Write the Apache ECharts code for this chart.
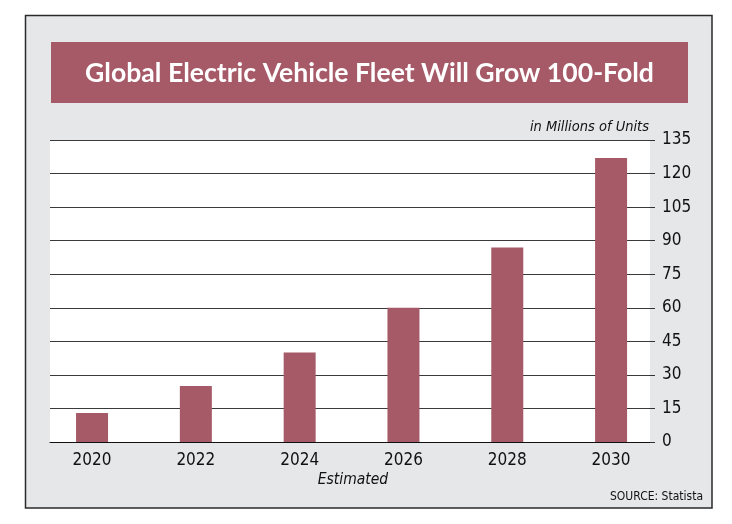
<!DOCTYPE html>
<html>
<head>
<meta charset="utf-8">
<script src="https://cdn.jsdelivr.net/npm/echarts@6/dist/echarts.min.js"></script>
<style>
  html, body { margin: 0; padding: 0; background: #ffffff; }
  #chart { width: 732px; height: 524px; }
</style>
</head>
<body>
<div id="chart"></div>
<script>
// ---- data ----
var years = [2020, 2022, 2024, 2026, 2028, 2030];
var fleetMillions = [13, 25, 40, 60, 87, 127];
var yTicks = { min: 0, max: 135, step: 15 };
var titleText = 'Global Electric Vehicle Fleet Will Grow 100-Fold';
var unitText = 'in Millions of Units';
var xNote = 'Estimated';
var sourceText = 'SOURCE: Statista';

var barColor = '#a65a67';
var panelColor = '#e6e7e9';
var narrow = '"Liberation Sans Narrow", "DejaVu Sans Condensed", "Liberation Sans", sans-serif';

var seriesData = years.map(function (y, i) { return [y, fleetMillions[i]]; });

var chart = echarts.init(document.getElementById('chart'), null, { renderer: 'canvas' });
chart.setOption({
  animation: false,
  backgroundColor: '#ffffff',
  grid: {
    left: 50, top: 140, width: 600, height: 302,
    show: true, backgroundColor: '#ffffff', borderWidth: 0
  },
  xAxis: {
    type: 'value',
    min: 2019.19, max: 2030.75,
    axisLine: { show: true, onZero: false, lineStyle: { color: '#111111', width: 1 } },
    axisTick: { show: false },
    splitLine: { show: false },
    axisLabel: {
      margin: 10,
      color: '#111111',
      fontFamily: narrow,
      fontSize: 17,
      customValues: years,
      formatter: function (v) { return String(Math.round(v)); }
    }
  },
  yAxis: {
    type: 'value',
    position: 'right',
    min: yTicks.min, max: yTicks.max, interval: yTicks.step,
    axisLine: { show: false },
    axisTick: { show: true, length: 5, lineStyle: { color: '#333333', width: 1 } },
    splitLine: { show: true, lineStyle: { color: '#3a3a3a', width: 1 } },
    axisLabel: {
      margin: 12,
      color: '#111111',
      fontFamily: narrow,
      fontSize: 17
    }
  },
  series: [{
    type: 'bar',
    data: seriesData,
    barWidth: 32,
    itemStyle: { color: barColor }
  }],
  graphic: [
    {
      type: 'rect', z: -10, silent: true,
      shape: { x: 25.5, y: 15.5, width: 686.5, height: 492.5 },
      style: { fill: panelColor, stroke: '#2a2a2a', lineWidth: 1.5 }
    },
    {
      type: 'rect', z: -9, silent: true,
      shape: { x: 51, y: 42, width: 637, height: 61 },
      style: { fill: barColor }
    },
    {
      type: 'text', z: 10, silent: true,
      style: {
        x: 369.5, y: 73, text: titleText,
        fill: '#ffffff', font: 'bold 26.6px Lato, "Open Sans", sans-serif',
        textAlign: 'center', textVerticalAlign: 'middle'
      }
    },
    {
      type: 'text', z: 10, silent: true,
      style: {
        x: 649, y: 127.5, text: unitText,
        fill: '#111111', font: 'italic 14.5px ' + narrow,
        textAlign: 'right', textVerticalAlign: 'middle'
      }
    },
    {
      type: 'text', z: 10, silent: true,
      style: {
        x: 353, y: 480, text: xNote,
        fill: '#111111', font: 'italic 15.5px ' + narrow,
        textAlign: 'center', textVerticalAlign: 'middle'
      }
    },
    {
      type: 'text', z: 10, silent: true,
      style: {
        x: 703, y: 496.5, text: sourceText,
        fill: '#111111', font: '12px ' + narrow,
        textAlign: 'right', textVerticalAlign: 'middle'
      }
    }
  ]
});
</script>
</body>
</html>
